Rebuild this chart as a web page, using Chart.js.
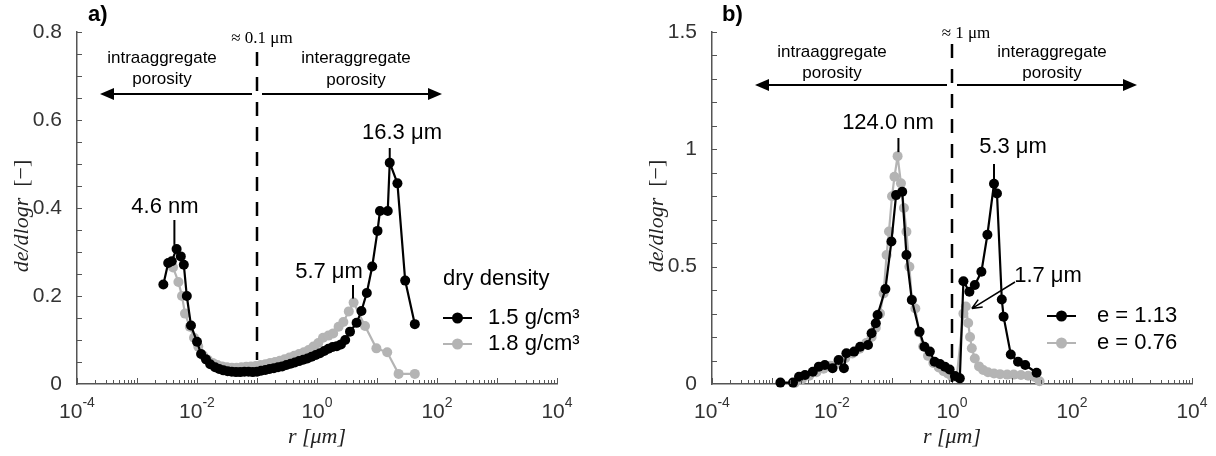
<!DOCTYPE html>
<html>
<head>
<meta charset="utf-8">
<script src="https://cdn.jsdelivr.net/npm/chart.js@4.4.1/dist/chart.umd.min.js"></script>
<style>
  body { margin: 0; background: #fff; }
  #wrap { position: relative; width: 1216px; height: 456px; }
  canvas { position: absolute; top: 0; }
</style>
</head>
<body>
<div id="wrap">
  <canvas id="chartA" width="608" height="456" style="left:0"></canvas>
  <canvas id="chartB" width="608" height="456" style="left:608px"></canvas>
</div>
<script>
// panel a) dry density 1.5 and 1.8 g/cm3  (r in um, de/dlogr)
const radiusA15 = [0.00275,0.00331,0.00380,0.00457,0.00537,0.00603,0.00676,0.00794,0.0100,0.0117,
  0.0141,0.0166,0.0200,0.0234,0.0275,0.0324,0.0380,0.0447,0.0525,0.0617,
  0.0724,0.0851,0.100,0.117,0.138,0.162,0.191,0.224,0.263,0.309,
  0.363,0.427,0.501,0.589,0.692,0.813,0.955,1.12,1.32,1.55,
  1.82,2.14,2.51,2.95,3.55,4.57,5.50,6.76,8.32,10.2,
  11.2,15.1,16.3,21.9,29.5,42.7];
const ddA15 = [0.226,0.275,0.279,0.307,0.290,0.271,0.200,0.133,0.096,0.068,
  0.056,0.045,0.038,0.034,0.031,0.029,0.028,0.027,0.027,0.028,
  0.028,0.027,0.028,0.030,0.032,0.034,0.036,0.038,0.040,0.043,
  0.046,0.049,0.052,0.055,0.058,0.062,0.066,0.070,0.075,0.080,
  0.084,0.086,0.090,0.100,0.119,0.139,0.166,0.207,0.267,0.348,
  0.393,0.393,0.503,0.456,0.235,0.136];

const radiusA18 = [0.00398,0.00490,0.00562,0.00631,0.00759,0.00891,0.0105,0.0126,0.0151,0.0182,
  0.0219,0.0263,0.0316,0.0380,0.0457,0.0550,0.0661,0.0794,0.0955,0.115,
  0.138,0.166,0.200,0.240,0.288,0.347,0.417,0.501,0.603,0.724,
  0.871,1.05,1.26,1.55,1.86,2.29,2.75,3.39,4.07,6.31,
  9.77,14.8,22.9,42.7];
const ddA18 = [0.265,0.232,0.200,0.160,0.130,0.105,0.085,0.065,0.055,0.048,
  0.043,0.040,0.038,0.037,0.037,0.038,0.039,0.040,0.041,0.043,
  0.045,0.048,0.050,0.053,0.056,0.060,0.064,0.068,0.072,0.077,
  0.085,0.093,0.105,0.110,0.115,0.130,0.141,0.165,0.185,0.132,
  0.081,0.072,0.023,0.023];

// panel b) void ratio e = 1.13 and e = 0.76
const radiusB113 = [0.00138,0.00224,0.00282,0.00355,0.00479,0.00603,0.00759,0.0102,0.0129,0.0158,
  0.0174,0.0234,0.0295,0.0398,0.0457,0.0537,0.0575,0.0776,0.0977,0.117,
  0.148,0.174,0.214,0.288,0.347,0.427,0.513,0.631,0.759,0.912,
  1.12,1.35,1.55,1.95,2.40,3.09,3.89,5.01,5.62,6.76,
  7.24,9.55,12.6,16.6,25.7];
const ddB113 = [0.006,0.006,0.031,0.038,0.052,0.074,0.081,0.067,0.102,0.067,
  0.131,0.138,0.159,0.166,0.216,0.259,0.294,0.405,0.607,0.805,
  0.819,0.550,0.358,0.223,0.159,0.138,0.095,0.085,0.074,0.062,
  0.034,0.024,0.438,0.393,0.422,0.478,0.636,0.853,0.812,0.360,
  0.287,0.126,0.095,0.081,0.048];

const radiusB076 = [0.00240,0.00316,0.00417,0.00550,0.00724,0.00955,0.0126,0.0166,0.0219,0.0288,
  0.0372,0.0457,0.0537,0.0631,0.0724,0.0813,0.0891,0.100,0.110,0.124,
  0.141,0.158,0.174,0.195,0.214,0.245,0.282,0.331,0.398,0.490,
  0.603,0.724,0.851,1.00,1.20,1.55,1.70,1.86,2.00,2.14,
  2.40,2.82,3.31,3.98,5.01,6.31,8.32,10.7,14.1,18.6,
  24.0,28.8];
const ddB076 = [0.004,0.020,0.035,0.050,0.065,0.078,0.090,0.110,0.130,0.150,
  0.175,0.200,0.240,0.300,0.386,0.550,0.650,0.800,0.883,0.971,
  0.855,0.750,0.649,0.500,0.360,0.322,0.220,0.160,0.120,0.090,
  0.070,0.055,0.045,0.031,0.030,0.300,0.330,0.260,0.200,0.152,
  0.109,0.075,0.060,0.050,0.045,0.042,0.040,0.040,0.038,0.035,
  0.030,0.012];

const xTickExps = ['-4', '-2', '0', '2', '4'];
const legendA = ['1.5 g/cm³', '1.8 g/cm³'];
const legendB = ['e = 1.13', 'e = 0.76'];

const SANS = "'Liberation Sans', Arial, sans-serif";
const SERIF = "'Liberation Serif', 'Times New Roman', serif";
const BLACK = '#000000';
const GREY = '#b4b4b4';
const AXIS = '#555555';

function toPoints(xs, ys) {
    return xs.map((x, i) => ({ x: x, y: ys[i] }));
}

function series(label, xs, ys, color) {
    return {
        label: label,
        data: toPoints(xs, ys),
        borderColor: color,
        backgroundColor: color,
        borderWidth: 2.2,
        pointRadius: 5,
        pointBorderWidth: 0,
        pointBackgroundColor: color,
        tension: 0,
        clip: false
    };
}

function text(ctx, str, x, y, font, align, color) {
    ctx.font = font;
    ctx.fillStyle = color || '#000';
    ctx.textAlign = align || 'center';
    ctx.textBaseline = 'middle';
    ctx.fillText(str, x, y);
}

function hArrow(ctx, x0, x1, y) {
    const dir = x1 > x0 ? 1 : -1;
    ctx.beginPath();
    ctx.moveTo(x0, y);
    ctx.lineTo(x1 - dir * 10, y);
    ctx.stroke();
    ctx.beginPath();
    ctx.moveTo(x1, y);
    ctx.lineTo(x1 - dir * 14, y - 6);
    ctx.lineTo(x1 - dir * 14, y + 6);
    ctx.closePath();
    ctx.fill();
}

// inner ticks, x tick labels with superscripts, axis titles
function drawFrame(chart, yMinor, yTitleX) {
    const { ctx, chartArea: ca, scales: { x, y } } = chart;
    ctx.save();
    ctx.strokeStyle = AXIS;
    ctx.lineWidth = 1;
    ctx.beginPath();
    for (let e = -4; e <= 4; e++) {
        for (let m = 1; m <= 9; m++) {
            if (e === 4 && m > 1) break;
            const px = Math.round(x.getPixelForValue(m * Math.pow(10, e))) + 0.5;
            const len = m === 1 ? 6 : 4;
            ctx.moveTo(px, ca.bottom);
            ctx.lineTo(px, ca.bottom - len);
        }
    }
    for (let v = yMinor; v <= y.max + 1e-9; v += yMinor) {
        const py = Math.round(y.getPixelForValue(v)) + 0.5;
        ctx.moveTo(ca.left, py);
        ctx.lineTo(ca.left + 5, py);
    }
    ctx.stroke();

    // x tick labels
    xTickExps.forEach(ex => {
        const cx = x.getPixelForValue(Math.pow(10, Number(ex)));
        ctx.font = '21px ' + SANS;
        const w1 = ctx.measureText('10').width;
        ctx.font = '14px ' + SANS;
        const w2 = ctx.measureText(ex).width;
        const start = cx - (w1 + w2) / 2;
        ctx.fillStyle = '#333';
        ctx.textAlign = 'left';
        ctx.textBaseline = 'alphabetic';
        ctx.font = '21px ' + SANS;
        ctx.fillText('10', start, 418);
        ctx.font = '14px ' + SANS;
        ctx.fillText(ex, start + w1, 407);
    });

    // x title
    const xc = (ca.left + ca.right) / 2;
    text(ctx, 'r [μm]', xc, 437, 'italic 22px ' + SERIF, 'center', '#222');

    // y title
    ctx.translate(yTitleX, (ca.top + ca.bottom) / 2 + 8);
    ctx.rotate(-Math.PI / 2);
    ctx.font = 'italic 22px ' + SERIF;
    const t1 = ctx.measureText('de/dlogr').width;
    ctx.font = '22px ' + SERIF;
    const t2 = ctx.measureText('  [−]').width;
    ctx.fillStyle = '#222';
    ctx.textBaseline = 'middle';
    ctx.textAlign = 'left';
    ctx.font = 'italic 22px ' + SERIF;
    ctx.fillText('de/dlogr', -(t1 + t2) / 2, 0);
    ctx.font = '22px ' + SERIF;
    ctx.fillText('  [−]', -(t1 + t2) / 2 + t1, 0);
    ctx.restore();
}

function drawLegend(ctx, labels, x0, ys, textX) {
    [BLACK, GREY].forEach((c, i) => {
        ctx.strokeStyle = c;
        ctx.fillStyle = c;
        ctx.lineWidth = 2;
        ctx.beginPath();
        ctx.moveTo(x0, ys[i]);
        ctx.lineTo(x0 + 29, ys[i]);
        ctx.stroke();
        ctx.beginPath();
        ctx.arc(x0 + 14.5, ys[i], 5.5, 0, Math.PI * 2);
        ctx.fill();
        text(ctx, labels[i], textX, ys[i], '22px ' + SANS, 'left', '#000');
    });
}

function peakLine(ctx, px, yTop, yBottom) {
    ctx.beginPath();
    ctx.moveTo(px, yTop);
    ctx.lineTo(px, yBottom);
    ctx.stroke();
}

function drawPanelA(chart) {
    const { ctx, chartArea: ca, scales: { x, y } } = chart;
    drawFrame(chart, 0.05, 22);
    ctx.save();
    text(ctx, 'a)', 88, 15, 'bold 22px ' + SANS, 'left');
    const dx = x.getPixelForValue(0.1);
    text(ctx, '≈ 0.1 μm', dx + 5, 39, '17px ' + SERIF);
    ctx.strokeStyle = '#000';
    ctx.fillStyle = '#000';
    ctx.lineWidth = 2.5;
    ctx.setLineDash([14, 11]);
    peakLine(ctx, dx, 52, 360);
    ctx.setLineDash([]);
    ctx.lineWidth = 2;
    text(ctx, 'intraaggregate', 162, 58, '17px ' + SANS);
    text(ctx, 'porosity', 162, 79, '17px ' + SANS);
    text(ctx, 'interaggregate', 356, 58, '17px ' + SANS);
    text(ctx, 'porosity', 356, 80, '17px ' + SANS);
    hArrow(ctx, dx - 5, 100, 94);
    hArrow(ctx, dx + 5, 442, 94);

    text(ctx, '16.3 μm', 402, 133, '22px ' + SANS);
    peakLine(ctx, x.getPixelForValue(16.3), 148, y.getPixelForValue(0.503));
    text(ctx, '4.6 nm', 165, 207, '22px ' + SANS);
    peakLine(ctx, x.getPixelForValue(0.0042), 220, y.getPixelForValue(0.307) - 4);
    text(ctx, '5.7 μm', 329, 272, '22px ' + SANS);
    peakLine(ctx, x.getPixelForValue(3.98), 285, y.getPixelForValue(0.185) - 4);

    text(ctx, 'dry density', 443, 279, '22px ' + SANS, 'left');
    drawLegend(ctx, legendA, 443, [318, 344], 488);
    ctx.restore();
}

function drawPanelB(chart) {
    const { ctx, chartArea: ca, scales: { x, y } } = chart;
    drawFrame(chart, 0.1, 49);
    ctx.save();
    text(ctx, 'b)', 114, 15, 'bold 22px ' + SANS, 'left');
    const dx = x.getPixelForValue(1);
    text(ctx, '≈ 1 μm', dx + 14, 34, '17px ' + SERIF);
    ctx.strokeStyle = '#000';
    ctx.fillStyle = '#000';
    ctx.lineWidth = 2.5;
    ctx.setLineDash([14, 11]);
    peakLine(ctx, dx, 44, 382);
    ctx.setLineDash([]);
    ctx.lineWidth = 2;
    text(ctx, 'intraaggregate', 224, 52, '17px ' + SANS);
    text(ctx, 'porosity', 224, 73, '17px ' + SANS);
    text(ctx, 'interaggregate', 444, 52, '17px ' + SANS);
    text(ctx, 'porosity', 444, 73, '17px ' + SANS);
    hArrow(ctx, dx - 5, 147, 85);
    hArrow(ctx, dx + 5, 529, 85);

    text(ctx, '124.0 nm', 280, 123, '22px ' + SANS);
    peakLine(ctx, x.getPixelForValue(0.128), 138, y.getPixelForValue(0.971) - 4);
    text(ctx, '5.3 μm', 405, 147, '22px ' + SANS);
    peakLine(ctx, x.getPixelForValue(5.01), 164, y.getPixelForValue(0.853) - 4);

    text(ctx, '1.7 μm', 440, 276, '22px ' + SANS);
    // thin arrow pointing at the 1.7 um shoulder
    const tx = x.getPixelForValue(1.7) + 6, ty = y.getPixelForValue(0.33) + 2;
    const sx = 407, sy = 282;
    const ang = Math.atan2(ty - sy, tx - sx);
    ctx.lineWidth = 1.5;
    ctx.beginPath();
    ctx.moveTo(sx, sy);
    ctx.lineTo(tx, ty);
    ctx.moveTo(tx, ty);
    ctx.lineTo(tx - 11 * Math.cos(ang - 0.4), ty - 11 * Math.sin(ang - 0.4));
    ctx.moveTo(tx, ty);
    ctx.lineTo(tx - 11 * Math.cos(ang + 0.4), ty - 11 * Math.sin(ang + 0.4));
    ctx.stroke();

    drawLegend(ctx, legendB, 439, [316, 343], 489);
    ctx.restore();
}

function makeChart(id, datasets, yMax, yStep, padLeft, padRight, drawFn) {
    const ctx = document.getElementById(id).getContext('2d');
    return new Chart(ctx, {
        type: 'line',
        data: { datasets: datasets },
        options: {
            responsive: false,
            animation: false,
            layout: { padding: { left: padLeft, right: padRight, top: 32, bottom: 12 } },
            plugins: { legend: { display: false }, tooltip: { enabled: false } },
            scales: {
                x: {
                    type: 'logarithmic',
                    min: 1e-4,
                    max: 1e4,
                    ticks: { display: false },
                    grid: { display: false },
                    border: { color: AXIS, width: 1.5 },
                    afterFit: s => { s.height = 60; }
                },
                y: {
                    min: 0,
                    max: yMax,
                    ticks: {
                        stepSize: yStep,
                        padding: 7,
                        color: '#333',
                        font: { family: SANS, size: 21 },
                        callback: v => String(Number(v.toFixed(2)))
                    },
                    grid: { display: false },
                    border: { color: AXIS, width: 1.5 },
                    afterFit: s => { s.width = 50; }
                }
            }
        },
        plugins: [{ id: 'extras_' + id, afterDraw: drawFn }]
    });
}

makeChart('chartA', [
    series(legendA[0], radiusA15, ddA15, BLACK),
    series(legendA[1], radiusA18, ddA18, GREY)
], 0.8, 0.2, 27, 51, drawPanelA);

makeChart('chartB', [
    series(legendB[0], radiusB113, ddB113, BLACK),
    series(legendB[1], radiusB076, ddB076, GREY)
], 1.5, 0.5, 54, 24, drawPanelB);
</script>
</body>
</html>
